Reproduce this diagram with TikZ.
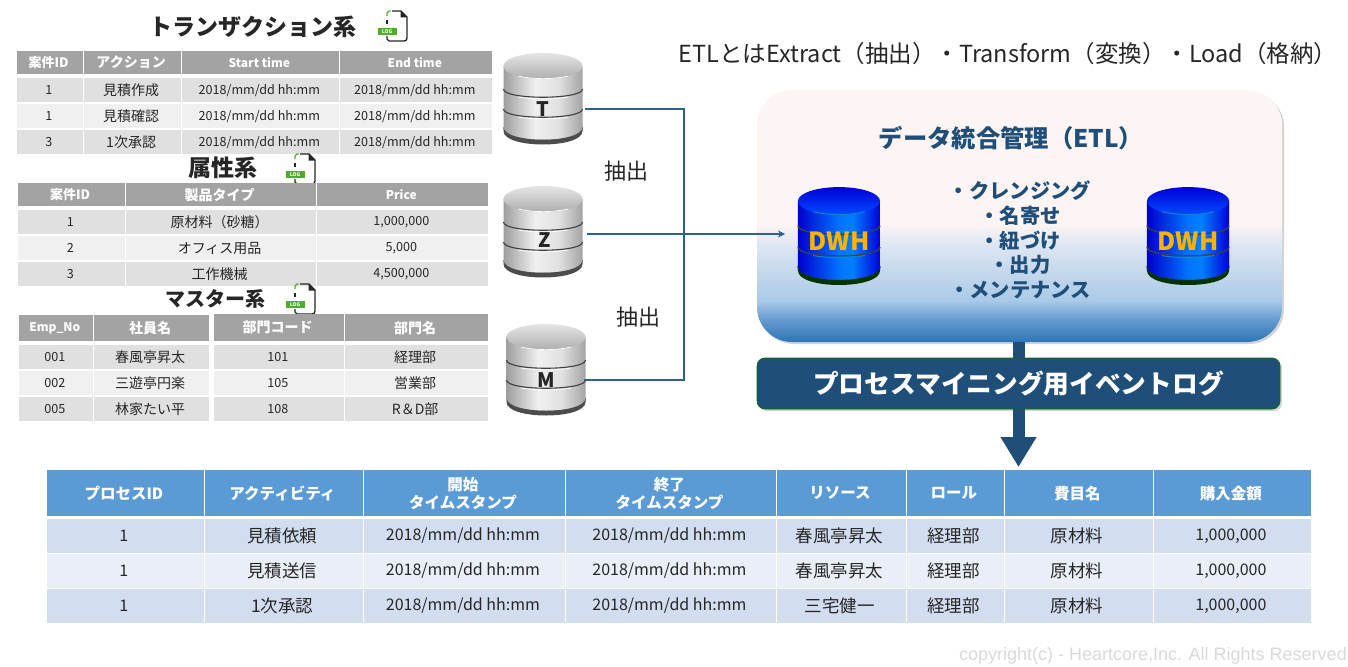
\documentclass[tikz,border=0pt]{standalone}
\usepackage{fontspec}
\setmainfont{Noto Sans CJK JP}
\newfontfamily\markfont{Liberation Sans}
\usetikzlibrary{matrix}
\usetikzlibrary{shapes,arrows,arrows.meta,positioning,shadows}
\definecolor{headgray}{HTML}{A3A3A3}
\definecolor{rowdark}{HTML}{E0E0E0}
\definecolor{rowlight}{HTML}{F0F0F0}
\definecolor{headblue}{HTML}{5B9BD5}
\definecolor{rowblue}{HTML}{D2DEEF}
\definecolor{rowpale}{HTML}{EAEFF7}
\definecolor{navy}{HTML}{1F4E79}
\definecolor{feedblue}{HTML}{2F5F8F}
\definecolor{logink}{HTML}{262626}
\definecolor{logtag}{HTML}{4FAF24}
\definecolor{etlpink}{HTML}{FDF5F3}
\definecolor{etlpale}{HTML}{DFE7F3}
\definecolor{etlmist}{HTML}{C5D8EC}
\definecolor{etlsky}{HTML}{A9CBE8}
\definecolor{etlmid}{HTML}{659BD0}
\definecolor{etldeep}{HTML}{2E75B6}
\pgfdeclareverticalshading{etlfade}{100bp}{
  color(0bp)=(etldeep); color(25bp)=(etldeep); color(29.5bp)=(etlmid);
  color(33.3bp)=(etlsky); color(39bp)=(etlmist); color(44.5bp)=(etlpale);
  color(48.5bp)=(etlpink); color(100bp)=(etlpink)}
\pgfdeclarehorizontalshading{cangray}{100bp}{
  color(0bp)=(black!38); color(25bp)=(black!38); color(45bp)=(black!6); color(60bp)=(black!12); color(75bp)=(black!36); color(100bp)=(black!36)}
\pgfdeclarehorizontalshading{canblue}{100bp}{
  color(0bp)=(blue!80!black); color(25bp)=(blue!80!black); color(50bp)=(blue!55!cyan); color(58bp)=(blue!50!cyan); color(75bp)=(blue!85!black); color(100bp)=(blue!85!black)}
\begin{document}
\begin{tikzpicture}[
    x=1pt,y=-1pt,
    headline/.style={font=\fontsize{23}{26}\selectfont\bfseries,text=logink,inner sep=0pt},
    plainline/.style={font=\fontsize{23.5}{28}\selectfont,text=logink,inner sep=0pt},
    latinhead/.style={font=\fontsize{12}{14}\selectfont\bfseries},
    jpcell/.style={nodes={font=\fontsize{14}{16}\selectfont}},
    jpevent/.style={nodes={font=\fontsize{17.5}{20}\selectfont}},
    cellgrid/.style={
        matrix of nodes,
        matrix anchor=north west,
        inner sep=0pt,
        column sep=1pt,
        row sep=2pt,
        nodes={
            anchor=center,
            inner sep=0pt,
            minimum height=24pt,
            align=center,
            text=logink,
            font=\fontsize{12.6}{15}\selectfont
        },
        row 1/.style={nodes={fill=headgray,text=white,minimum height=23pt,font=\fontsize{14}{16}\selectfont\bfseries}},
        row 2/.style={nodes={fill=rowdark}},
        row 3/.style={nodes={fill=rowlight}},
        row 4/.style={nodes={fill=rowdark}}
    },
    eventgrid/.style={
        matrix of nodes,
        matrix anchor=north west,
        inner sep=0pt,
        column sep=1pt,
        row sep=1.5pt,
        nodes={
            anchor=center,
            inner sep=0pt,
            minimum height=33.5pt,
            align=center,
            text=logink,
            font=\fontsize{16}{19}\selectfont
        },
        row 1/.style={nodes={fill=headblue,text=white,minimum height=46pt,font=\fontsize{15.5}{17}\selectfont\bfseries}},
        row 2/.style={nodes={fill=rowblue}},
        row 3/.style={nodes={fill=rowpale}},
        row 4/.style={nodes={fill=rowblue}}
    },
    graycan/.style={
        can side/.style={shading=cangray},
        can top/.style={top color=black!10,bottom color=black!32},
        can band/.style={draw=black!75,line width=1.1pt},
        can glint/.style={draw=white,line width=.7pt},
        can rim/.style={fill=black!70}
    },
    bluecan/.style={
        can side/.style={shading=canblue},
        can top/.style={top color=blue!85!black,bottom color=blue!70!cyan},
        can band/.style={draw=black!50!gray,line width=1.3pt},
        can glint/.style={draw=cyan!70!blue,line width=.9pt},
        can rim/.style={fill=black!80!green}
    },
    dbcan/.pic={
        \fill[can rim,opacity=.55] (-40,61) .. controls (-40,80) and (40,80) .. (40,61) -- cycle;
        \path[can side] (-39.5,0) -- (-39.5,61) .. controls (-39.5,78) and (39.5,78) .. (39.5,61) -- (39.5,0) -- cycle;
        \path[can rim] (-39.5,61) .. controls (-39.5,78) and (39.5,78) .. (39.5,61) -- (39.5,65) .. controls (39.5,83) and (-39.5,83) .. (-39.5,65) -- cycle;
        \path[can top] (0,0) ellipse (39.5 and 13);
        \foreach \bandy in {23,43} {
            \draw[can band] (-39.5,\bandy) .. controls (-39.5,\bandy+11) and (39.5,\bandy+11) .. (39.5,\bandy);
            \draw[can glint] (-25,\bandy+8) .. controls (-10,\bandy+10.5) and (10,\bandy+10.5) .. (25,\bandy+8);
        }
        \draw[can glint] (-25,10) .. controls (-10,13.5) and (10,13.5) .. (25,10);
    },
    dblabel/.style={minimum height=20pt,inner sep=0pt,text=logink,font=\fontsize{20}{22}\selectfont\bfseries},
    dwhlabel/.style={minimum width=82pt,minimum height=24pt,inner sep=0pt,text=orange!60!yellow,font=\fontsize{25}{27}\selectfont\bfseries},
    listline/.style={inner sep=0pt,text=navy,font=\fontsize{20.3}{22}\selectfont\bfseries},
    feedline/.style={draw=feedblue,line width=1.1pt},
    logfile/.pic={
        \draw[logink,line width=1.4pt,line join=round] (5,0) -- (14,0) -- (20,6) -- (20,27) .. controls (20,29) and (19,30) .. (17,30) -- (2,30) -- (0,28) -- (0,25);
        \fill[logink] (13.5,0) -- (20,6.5) -- (13.5,6.5) -- cycle;
        \draw[logtag,line width=1.4pt] (0,5) -- (0,2) -- (2,0) -- (3.5,0);
        \draw[logink,line width=1.4pt] (0,9) -- (0,13);
        \node[fill=logtag,text=white,minimum width=19pt,minimum height=7pt,inner sep=0pt,font=\fontsize{5}{5}\selectfont\bfseries] (-tag) at (0,20.5) {LOG};
    }
]
\useasboundingbox (0,0) rectangle (1348,666);

\node[headline] (txtitle) at (253,27) {トランザクション系};
\pic (txlog) at (387,11) {logfile};
\matrix (txtable) at (17,51) [cellgrid,
    row 1 column 1/.style={nodes={font=\fontsize{13}{15}\selectfont\bfseries}},
    column 1/.style={nodes={minimum width=66pt}},
    column 2/.style={jpcell,nodes={minimum width=97pt}},
    column 3/.style={nodes={minimum width=157pt}},
    column 4/.style={nodes={minimum width=152pt}}]
{
    案件ID & アクション & |[latinhead]| Start time & |[latinhead]| End time \\[2pt]
    1 & 見積作成 & 2018/mm/dd hh:mm & 2018/mm/dd hh:mm \\
    1 & 見積確認 & 2018/mm/dd hh:mm & 2018/mm/dd hh:mm \\
    3 & 1次承認 & 2018/mm/dd hh:mm & 2018/mm/dd hh:mm \\
};

\node[headline] (attrtitle) at (223,168) {属性系};
\pic (attrlog) at (295,154) {logfile};
\matrix (attrtable) at (18,183) [cellgrid,
    row 1 column 1/.style={nodes={font=\fontsize{13}{15}\selectfont\bfseries}},
    column 1/.style={nodes={minimum width=107pt}},
    column 2/.style={jpcell,nodes={minimum width=190pt}},
    column 3/.style={nodes={minimum width=171pt}}]
{
    案件ID & 製品タイプ & |[latinhead]| Price \\[2pt]
    1 & 原材料（砂糖） & 1,000,000 \\
    2 & オフィス用品 & 5,000 \\
    3 & 工作機械 & 4,500,000 \\
};

\node[headline,font=\fontsize{20}{24}\selectfont\bfseries] (mastertitle) at (215,299) {マスター系};
\pic (masterlog) at (295,284) {logfile};
\matrix (emptable) at (19,315) [cellgrid,
    row 1/.append style={nodes={minimum height=26pt}},
    column 1/.style={nodes={minimum width=74pt}},
    column 2/.style={jpcell,nodes={minimum width=115pt}}]
{
    |[latinhead]| Emp\_No & 社員名 \\[2pt]
    001 & 春風亭昇太 \\
    002 & 三遊亭円楽 \\
    005 & 林家たい平 \\
};
\matrix (depttable) at (214,314) [cellgrid,
    row 1/.append style={nodes={minimum height=27pt}},
    column 1/.style={nodes={minimum width=130pt}},
    column 2/.style={jpcell,nodes={minimum width=143pt}}]
{
    部門コード & 部門名 \\[2pt]
    101 & 経理部 \\
    105 & 営業部 \\
    108 & R＆D部 \\
};

\pic[graycan] at (543,66) {dbcan};
\pic[graycan] at (543,199) {dbcan};
\pic[graycan] at (546,337) {dbcan};
\node[dblabel,minimum width=84pt] (dbT) at (543,109) {T};
\node[dblabel,minimum width=84pt] (dbZ) at (545,240) {Z};
\node[dblabel,minimum width=76pt] (dbM) at (546,380) {M};
\coordinate (dbjoin) at (684,234);
\coordinate (dwhin) at (785,234);
\node[plainline,font=\fontsize{22}{26}\selectfont] (pulltop) at (626,171) {抽出};
\node[plainline,font=\fontsize{22}{26}\selectfont] (pullbottom) at (638,317) {抽出};

\node[plainline] (etlnote) at (1008,53.5) {ETLとはExtract（抽出）・Transform（変換）・Load（格納）};

\node[rounded corners=35pt,minimum width=525pt,minimum height=252pt,inner sep=0pt,shading=etlfade,
    drop shadow={opacity=.35,shadow xshift=2pt,shadow yshift=-2pt}] (etlbox) at (1019.5,216) {};
\node[inner sep=0pt,text=navy,font=\fontsize{24.3}{28}\selectfont\bfseries] (etltitle) at (1011,138) {データ統合管理（ETL）};

\pic[bluecan,xscale=1.04,yscale=1.07] at (839,201) {dbcan};
\pic[bluecan,xscale=1.04,yscale=1.07] at (1188,201) {dbcan};
\node[dwhlabel] (dwhleft) at (839,241) {DWH};
\node[dwhlabel] (dwhright) at (1188,241) {DWH};

\node[listline] (stepclean) at (1020,191) {・クレンジング};
\node[listline] (stepname) at (1020,216) {・名寄せ};
\node[listline] (steplink) at (1020,241) {・紐づけ};
\node[listline] (stepout) at (1020,265) {・出力};
\node[listline] (stepkeep) at (1020,290) {・メンテナンス};

\node[rounded corners=8pt,fill=navy,draw=green!45!black,line width=.7pt,minimum width=523pt,minimum height=51pt,inner sep=0pt,
    text=white,font=\fontsize{25.7}{30}\selectfont\bfseries,
    drop shadow={opacity=.35,shadow xshift=2pt,shadow yshift=-2pt}] (logbar) at (1018.5,383.5) {\raisebox{3pt}{プロセスマイニング用イベントログ}};
\coordinate (logtip) at (1018.5,467);

\draw[feedline] (dbT.east) -| (dbjoin);
\draw[feedline] (dbM.east) -| (dbjoin);
\draw[feedline,-{Stealth[length=7pt,width=7pt]}] ([yshift=6pt]dbZ.east) -- (dwhin);
\draw[navy,line width=12pt] (logbar.north |- etlbox.south) -- (logbar.north);
\draw[navy,line width=12pt,-{Triangle[length=30pt,width=34pt]}] (logbar.south) -- (logtip);

\matrix (eventtable) at (47,470) [eventgrid,
    column 1/.style={nodes={minimum width=157pt}},
    column 2/.style={jpevent,nodes={minimum width=158pt}},
    column 3/.style={nodes={minimum width=201pt}},
    column 4/.style={nodes={minimum width=210pt}},
    column 5/.style={jpevent,nodes={minimum width=129pt}},
    column 6/.style={jpevent,nodes={minimum width=97pt}},
    column 7/.style={jpevent,nodes={minimum width=148pt}},
    column 8/.style={nodes={minimum width=157pt}}]
{
    プロセスID & アクティビティ & \shortstack{開始\\タイムスタンプ} & \shortstack{終了\\タイムスタンプ} & リソース & ロール & 費目名 & 購入金額 \\[1.5pt]
    1 & 見積依頼 & 2018/mm/dd hh:mm & 2018/mm/dd hh:mm & 春風亭昇太 & 経理部 & 原材料 & 1,000,000 \\
    1 & 見積送信 & 2018/mm/dd hh:mm & 2018/mm/dd hh:mm & 春風亭昇太 & 経理部 & 原材料 & 1,000,000 \\
    1 & 1次承認 & 2018/mm/dd hh:mm & 2018/mm/dd hh:mm & 三宅健一 & 経理部 & 原材料 & 1,000,000 \\
};

\node[anchor=east,inner sep=0pt,text=black!15,font=\fontsize{18}{20}\selectfont\markfont] (copyline) at (1347,656) {copyright(c) - Heartcore,Inc. All Rights Reserved};
\end{tikzpicture}
\end{document}
